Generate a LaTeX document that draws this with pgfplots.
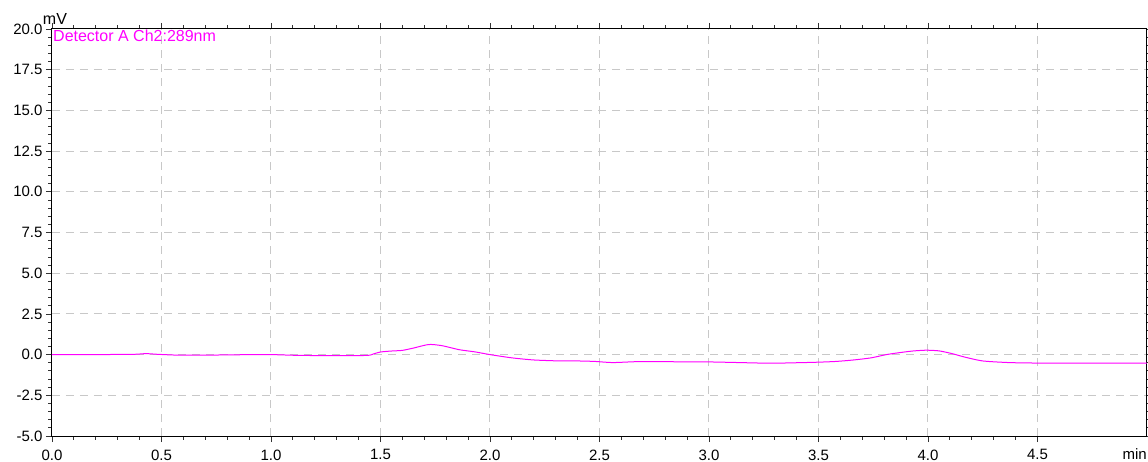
\documentclass[border=0pt]{standalone}
\usepackage{fontspec}
\setmainfont{Liberation Sans}
\usepackage{pgfplots}
\pgfplotsset{compat=1.18}
\definecolor{mag}{RGB}{255,0,255}
\definecolor{gridgray}{RGB}{200,200,200}
\begin{document}
\begin{tikzpicture}
\path[use as bounding box] (-52pt,-25pt) rectangle (1096pt,436pt);
\begin{axis}[
  at={(0,0)}, anchor=south west,
  scale only axis, width=1095pt, height=407pt,
  xmin=0, xmax=5, ymin=-5, ymax=20,
  xtick={0,0.5,1,1.5,2,2.5,3,3.5,4,4.5},
  ytick={-5,-2.5,0,2.5,5,7.5,10,12.5,15,17.5,20},
  minor x tick num=4, minor y tick num=4,
  tick align=outside,
  major tick length=6pt, minor tick length=3.5pt,
  grid=major,
  major grid style={gridgray, dash pattern=on 8pt off 6pt, line width=1pt},
  axis line style={black, line width=1pt},
  tick style={black!80, line width=0.8pt},
  xticklabel style={font=\fontsize{15}{17}\selectfont, yshift=-4pt},
  yticklabel style={font=\fontsize{15}{17}\selectfont},
  /pgf/number format/fixed,
  /pgf/number format/fixed zerofill,
  /pgf/number format/precision=1,
  /pgf/number format/assume math mode=true,
  clip mode=individual,
]
\addplot[mag, line width=1pt, smooth, tension=0.4] coordinates {
(0.00,0.00) (0.10,0.00) (0.20,0.00) (0.30,0.01) (0.38,0.02) (0.43,0.06)
(0.48,0.02) (0.57,-0.03) (0.72,-0.03) (0.85,-0.01) (1.00,0.00) (1.13,-0.05)
(1.30,-0.06) (1.44,-0.05) (1.47,0.05) (1.50,0.16) (1.55,0.22) (1.60,0.26)
(1.65,0.40) (1.72,0.62) (1.78,0.55) (1.86,0.30) (1.93,0.17) (2.00,0.00)
(2.10,-0.20) (2.20,-0.33) (2.32,-0.39) (2.40,-0.39) (2.48,-0.42) (2.56,-0.49)
(2.68,-0.43) (2.85,-0.44) (3.00,-0.45) (3.14,-0.49) (3.28,-0.53) (3.40,-0.50)
(3.49,-0.47) (3.58,-0.42) (3.66,-0.33) (3.74,-0.20) (3.81,0.00) (3.87,0.12)
(3.93,0.22) (3.99,0.27) (4.05,0.23) (4.11,0.06) (4.17,-0.16) (4.25,-0.39)
(4.37,-0.49) (4.50,-0.52) (4.63,-0.53) (4.80,-0.53) (5.00,-0.53)
};
\node[anchor=base west, inner sep=0, text=mag, font=\fontsize{16}{18}\selectfont]
  at ([xshift=1pt, yshift=-12.7pt]rel axis cs:0,1) {Detector A Ch2:289nm};
\node[anchor=base, inner sep=0, font=\fontsize{16}{18}\selectfont]
  at ([xshift=3pt, yshift=4pt]rel axis cs:0,1) {mV};
\node[anchor=base east, inner sep=0, font=\fontsize{15}{17}\selectfont]
  at ([yshift=-23pt]rel axis cs:1,0) {min};
\end{axis}
\end{tikzpicture}
\end{document}
